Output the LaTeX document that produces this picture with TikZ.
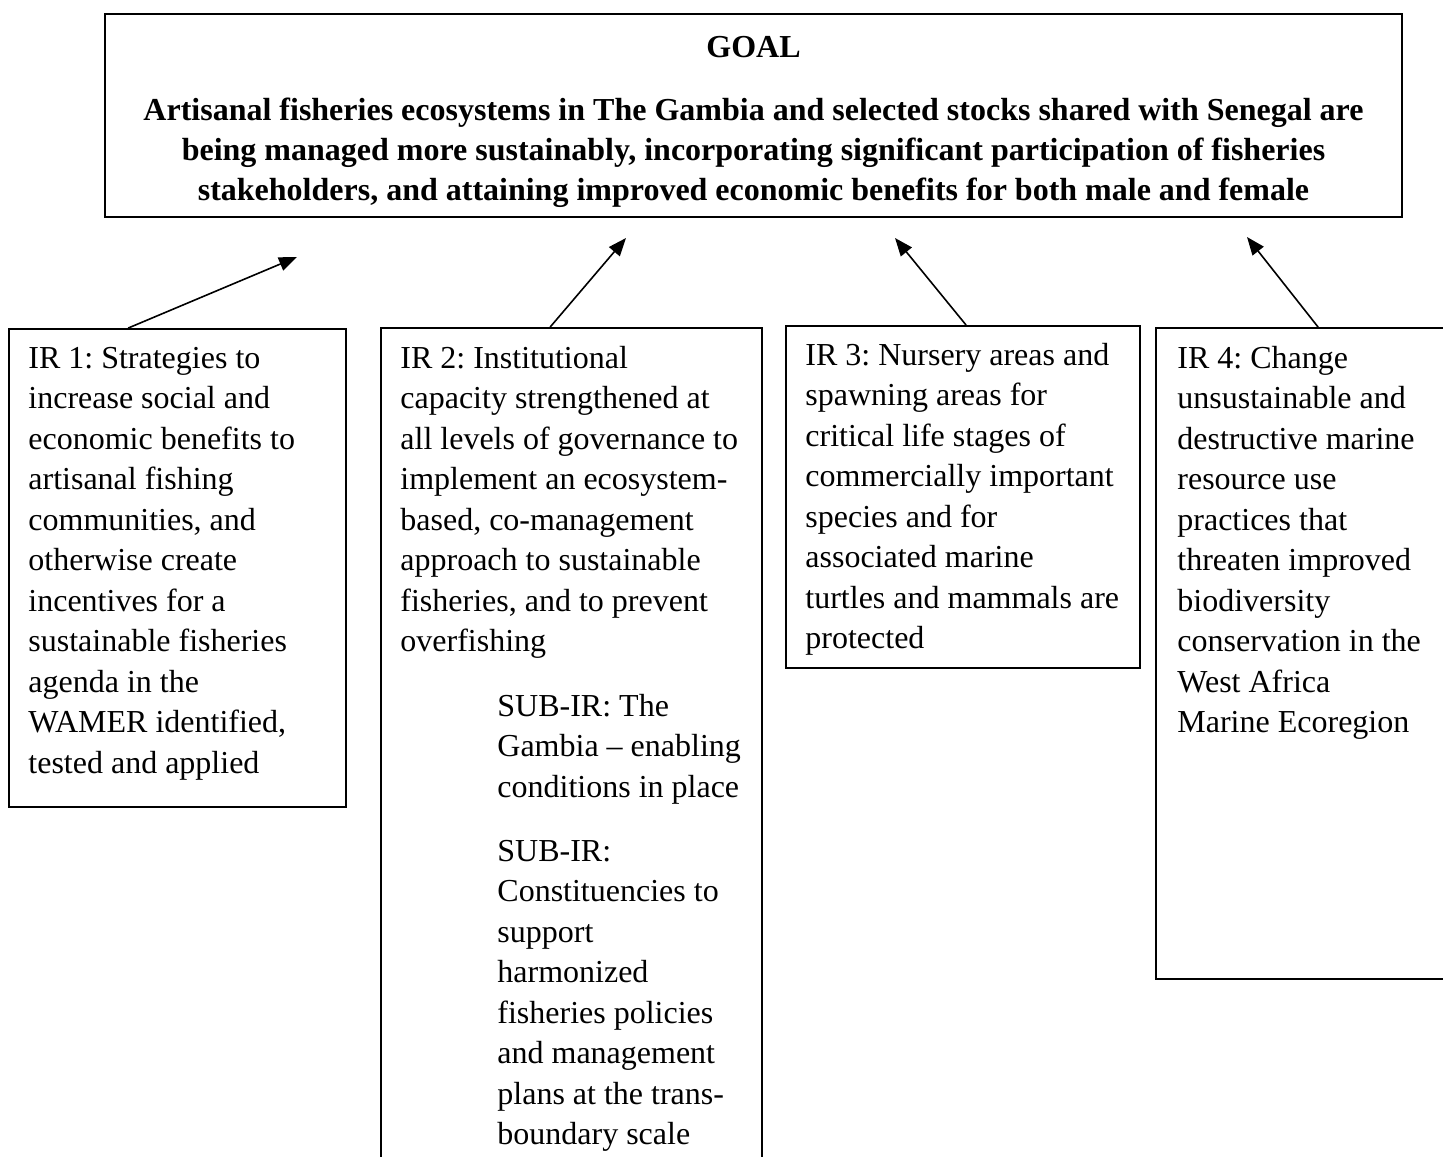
\documentclass[tikz,border=0pt]{standalone}
\usepackage{fontspec}
\setmainfont{Liberation Serif}
\usetikzlibrary{arrows.meta,calc}
\begin{document}
\frenchspacing
\begin{tikzpicture}[x=0.5pt,y=-0.5pt,
  box/.style={draw=black,line width=0.9pt,inner sep=0pt},
  irtext/.style={anchor=north west,inner sep=0pt,align=left,font=\fontsize{16}{20.25}\selectfont},
  goaltext/.style={anchor=north,inner sep=0pt,align=center,font=\fontsize{16}{20}\selectfont\bfseries},
  conn/.style={line width=0.8pt,-{Triangle[length=9pt,width=7pt]}}]
\useasboundingbox (0,0) rectangle (1443,1156);
\clip (0,0) rectangle (1443,1156);
% boxes
\node[box,minimum width=648.5pt,minimum height=101.5pt] (goal) at (753.5,115.5) {};
\node[box,minimum width=168.5pt,minimum height=239pt] (ir1) at (177.5,568) {};
\node[box,minimum width=190.5pt,minimum height=436pt] (ir2) at (571.5,764) {};
\node[box,minimum width=177pt,minimum height=171pt] (ir3) at (963,497) {};
\node[box,minimum width=172pt,minimum height=325.5pt] (ir4) at (1328,653.5) {};
% texts
\node[goaltext] (goalt) at (753.5,28.6) {\strut GOAL\\[11.5pt]
Artisanal fisheries ecosystems in The Gambia and selected stocks shared with Senegal are\\
being managed more sustainably, incorporating significant participation of fisheries\\
stakeholders, and attaining improved economic benefits for both male and female};
\node[irtext] (ir1t) at (28,339.6) {\strut IR 1: Strategies to\\
increase social and\\
economic benefits to\\
artisanal fishing\\
communities, and\\
otherwise create\\
incentives for a\\
sustainable fisheries\\
agenda in the\\
WAMER identified,\\
tested and applied};
\node[irtext] (ir2t) at (400,339.6) {\strut IR 2: Institutional\\
capacity strengthened at\\
all levels of governance to\\
implement an ecosystem-\\
based, co-management\\
approach to sustainable\\
fisheries, and to prevent\\
overfishing};
\node[irtext] (sub1t) at (497,687.6) {\strut SUB-IR: The\\
Gambia – enabling\\
conditions in place};
\node[irtext] (sub2t) at (497,832.6) {\strut SUB-IR:\\
Constituencies to\\
support\\
harmonized\\
fisheries policies\\
and management\\
plans at the trans-\\
boundary scale};
\node[irtext] (ir3t) at (805,336.6) {\strut IR 3: Nursery areas and\\
spawning areas for\\
critical life stages of\\
commercially important\\
species and for\\
associated marine\\
turtles and mammals are\\
protected};
\node[irtext] (ir4t) at (1177,339.6) {\strut IR 4: Change\\
unsustainable and\\
destructive marine\\
resource use\\
practices that\\
threaten improved\\
biodiversity\\
conservation in the\\
West Africa\\
Marine Ecoregion};
% arrow ends
\coordinate (t1) at (297,257);
\coordinate (t2) at (626,238);
\coordinate (t3) at (895,238);
\coordinate (t4) at (1247,237);
\draw[conn] ($(ir1.north west)+(120,0)$) -- (t1);
\draw[conn] ($(ir2.north west)+(170,0)$) -- (t2);
\draw[conn] ($(ir3.north west)+(181,0)$) -- (t3);
\draw[conn] ($(ir4.north west)+(163,0)$) -- (t4);
\end{tikzpicture}
\end{document}
